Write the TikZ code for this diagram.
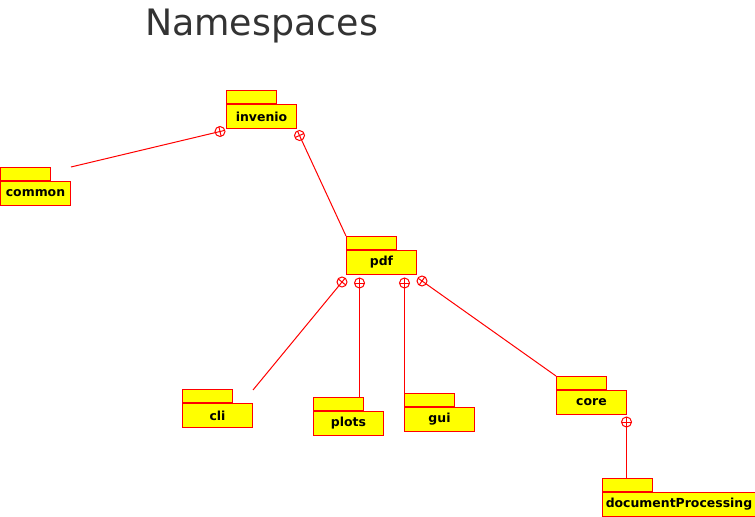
\documentclass[tikz,border=0pt]{standalone}
\usepackage{fontspec}
\setmainfont{DejaVu Sans}
\usetikzlibrary{calc}

\definecolor{pkgred}{RGB}{255,0,0}
\definecolor{pkgyellow}{RGB}{255,255,0}
\definecolor{titlegray}{RGB}{51,51,51}

\tikzset{
  pkg/.style={draw=pkgred, fill=pkgyellow, line width=1bp, anchor=north west,
    minimum width=70bp, minimum height=24bp, inner sep=0bp,
    font=\fontsize{12.5}{14}\selectfont\bfseries},
  pkgtab/.style={draw=pkgred, fill=pkgyellow, line width=1bp, anchor=south west,
    minimum width=50bp, minimum height=13bp, inner sep=0bp},
  conn/.style={draw=pkgred, line width=1bp}
}

% nesting connector: circled plus at #1, line to #2
\newcommand{\nestline}[2]{%
  \draw[conn] #1 circle (5);
  \draw[conn] ($#1!5bp!#2$) -- ($#1!-5bp!#2$);
  \draw[conn] ($#1!5bp!90:#2$) -- ($#1!5bp!-90:#2$);
  \draw[conn] ($#1!5bp!#2$) -- #2;
}

\begin{document}
\begin{tikzpicture}[x=1bp,y=-1bp]
  \useasboundingbox (0,0) rectangle (755,517);

  % title
  \node[anchor=base, font=\fontsize{36.5}{40}\selectfont, text=titlegray] (title) at (261.5,36) {Namespaces};

  % packages
  \node[pkg] (invenio) at (226,104) {invenio};
  \node[pkgtab] (inveniotab) at (invenio.north west) {};
  \node[pkg] (common) at (0,181) {common};
  \node[pkgtab] (commontab) at (common.north west) {};
  \node[pkg] (pdf) at (346,250) {pdf};
  \node[pkgtab] (pdftab) at (pdf.north west) {};
  \node[pkg] (cli) at (182,403) {cli};
  \node[pkgtab] (clitab) at (cli.north west) {};
  \node[pkg] (plots) at (313,411) {plots};
  \node[pkgtab] (plotstab) at (plots.north west) {};
  \node[pkg] (gui) at (404,407) {gui};
  \node[pkgtab] (guitab) at (gui.north west) {};
  \node[pkg] (core) at (556,390) {core};
  \node[pkgtab] (coretab) at (core.north west) {};
  \node[pkg, minimum width=153bp] (docproc) at (602,492) {documentProcessing};
  \node[pkgtab] (docproctab) at (docproc.north west) {};

  % nesting connectors
  \coordinate (commonend) at ($(common.north east)+(0,-14)$);
  \nestline{($(invenio.south west)+(-6,2.5)$)}{(commonend)}
  \nestline{($(invenio.south east)+(2.5,6.5)$)}{(pdftab.north west)}
  \coordinate (cliend) at ($(cli.north east)+(0,-13)$);
  \nestline{($(pdf.south west)+(-4,7)$)}{(cliend)}
  \coordinate (plotsend) at ($(plotstab.north west)+(46.5,0)$);
  \nestline{($(plotsend |- pdf.south)+(0,8)$)}{(plotsend)}
  \coordinate (guiend) at ($(guitab.north west)+(0.5,0)$);
  \nestline{($(guiend |- pdf.south)+(0,8)$)}{(guiend)}
  \nestline{($(pdf.south east)+(5,6)$)}{(coretab.north west)}
  \coordinate (docprocend) at ($(docproctab.north west)+(24.5,0)$);
  \nestline{($(docprocend |- core.south)+(0,7)$)}{(docprocend)}
\end{tikzpicture}
\end{document}
